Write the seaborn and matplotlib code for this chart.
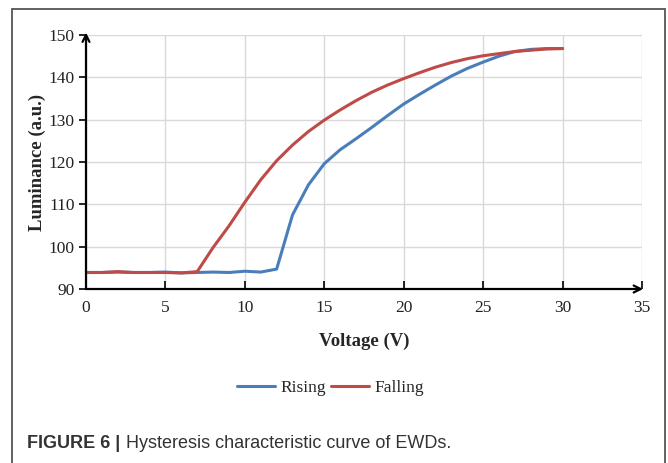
import matplotlib
matplotlib.use("Agg")
import matplotlib.pyplot as plt
from matplotlib.patches import Rectangle
import pandas as pd
import seaborn as sns

# Hysteresis data: luminance vs. applied voltage
voltage = list(range(0, 31))
rising = [93.9, 93.9, 94.0, 93.9, 93.9, 94.0, 93.8, 93.9, 94.0, 93.9,
          94.2, 94.0, 94.7, 107.5, 114.6, 119.6, 122.9, 125.5, 128.2, 131.0,
          133.7, 136.0, 138.2, 140.3, 142.1, 143.6, 145.0, 146.1, 146.6, 146.8,
          146.8]
falling = [93.9, 93.9, 94.1, 93.9, 93.9, 93.9, 93.8, 94.1, 99.8, 104.9,
           110.5, 115.8, 120.3, 124.0, 127.2, 129.9, 132.3, 134.5, 136.5, 138.2,
           139.7, 141.1, 142.4, 143.5, 144.4, 145.1, 145.6, 146.1, 146.4, 146.7,
           146.8]
series_names = ["Rising", "Falling"]
series_colors = ["#4A7EBB", "#BE4B48"]
x_ticks = [0, 5, 10, 15, 20, 25, 30, 35]
y_ticks = [90, 100, 110, 120, 130, 140, 150]

df = pd.DataFrame({
    "Voltage": voltage * 2,
    "Luminance": rising + falling,
    "Sweep": [series_names[0]] * len(voltage) + [series_names[1]] * len(voltage),
})

sns.set_style("white")
serif = ["Liberation Serif", "DejaVu Serif"]
plt.rcParams["font.family"] = serif

W, H = 668, 463
fig = plt.figure(figsize=(W / 100, H / 100), dpi=100)
ax = fig.add_axes([86 / W, 1 - 289 / H, (642 - 86) / W, (289 - 35) / H])

sns.lineplot(data=df, x="Voltage", y="Luminance", hue="Sweep",
             hue_order=series_names, palette=series_colors,
             linewidth=2.2, ax=ax, legend=True)

ax.set_xlim(0, 35)
ax.set_ylim(90, 150)
ax.set_xticks(x_ticks)
ax.set_yticks(y_ticks)
ax.grid(True, color="#d9d9d9", linewidth=1.0)
ax.set_axisbelow(True)
for s in ["top", "right", "left", "bottom"]:
    ax.spines[s].set_visible(False)

# Axis lines with open arrowheads
arrow_kw = dict(arrowstyle="->,head_length=0.5,head_width=0.25", color="black", lw=1.6,
                shrinkA=0, shrinkB=0)
ax.annotate("", xy=(0, 1.01), xytext=(0, 0), xycoords="axes fraction", arrowprops=arrow_kw)
ax.annotate("", xy=(1.002, 0), xytext=(0, 0), xycoords="axes fraction", arrowprops=arrow_kw)

ax.tick_params(axis="y", direction="out", length=5, width=1.2, color="black",
               labelsize=12.5, pad=3, left=True)
ax.tick_params(axis="x", direction="in", length=6, width=1.2, color="black",
               labelsize=12.5, pad=8, bottom=True)
for lbl in ax.get_xticklabels() + ax.get_yticklabels():
    lbl.set_color("#222222")

ax.set_xlabel("Voltage (V)", fontsize=13.5, fontweight="bold", labelpad=12)
ax.set_ylabel("Luminance (a.u.)", fontsize=13.5, fontweight="bold", labelpad=2)

sns.move_legend(ax, "center", bbox_to_anchor=(0.44, -0.39), ncol=2, frameon=False,
                title=None, fontsize=12.5, handlelength=2.2, handletextpad=0.3,
                columnspacing=0.3)

# Figure caption: bold label followed by regular text
cap_family = ["Liberation Sans", "DejaVu Sans"]
cap_y = 1 - 443 / H
t1 = fig.text(27 / W, cap_y, "FIGURE 6 |", fontsize=13, fontweight="bold",
              family=cap_family, color="#333333", va="center", ha="left")
fig.canvas.draw()
bb = t1.get_window_extent(renderer=fig.canvas.get_renderer())
fig.text(bb.x1 / W + 6 / W, cap_y, "Hysteresis characteristic curve of EWDs.",
         fontsize=13, family=cap_family, color="#333333", va="center", ha="left")

# Panel frame
fig.add_artist(Rectangle((12 / W, -0.02), (665 - 12) / W, 1 - 9 / H + 0.02,
                         transform=fig.transFigure, fill=False,
                         edgecolor="#555555", linewidth=1.3))

fig.savefig("out.png", dpi=100)
